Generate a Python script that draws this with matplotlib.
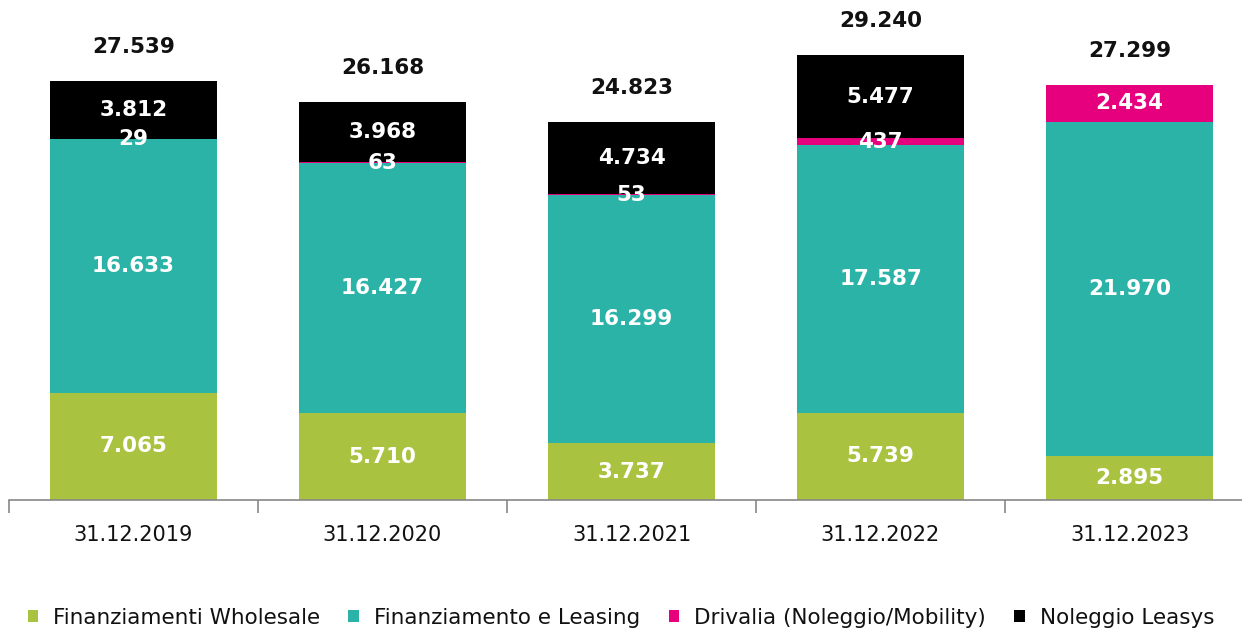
import matplotlib
matplotlib.use("Agg")
import matplotlib.pyplot as plt
import numpy as np

categories = ["31.12.2019", "31.12.2020", "31.12.2021", "31.12.2022", "31.12.2023"]
series_names = ["Finanziamenti Wholesale", "Finanziamento e Leasing",
                "Drivalia (Noleggio/Mobility)", "Noleggio Leasys"]
wholesale = [7065, 5710, 3737, 5739, 2895]
leasing = [16633, 16427, 16299, 17587, 21970]
drivalia = [29, 63, 53, 437, 2434]
leasys = [3812, 3968, 4734, 5477, 0]
totals = [27539, 26168, 24823, 29240, 27299]

colors = ["#A9C23F", "#2BB3A8", "#E6007E", "#000000"]

plt.rcParams['font.family'] = ['DejaVu Sans']

W, H = 1242, 629
fig = plt.figure(figsize=(W / 100, H / 100), dpi=100)
ax_left = 9 / W
ax_w = 1245 / W
ax_bottom = (H - 500) / H
ymax = 32000
px_per_unit = 419 / 27539
ax_h = ymax * px_per_unit / H
ax = fig.add_axes([ax_left, ax_bottom, ax_w, ax_h])

x = np.arange(len(categories))
bw = 0.667
series = [wholesale, leasing, drivalia, leasys]
bottom = np.zeros(len(categories))
for vals, c, name in zip(series, colors, series_names):
    vals = np.array(vals, dtype=float)
    ax.bar(x, vals, bw, bottom=bottom, color=c, label=name, linewidth=0)
    for xi, v, b in zip(x, vals, bottom):
        if v > 0:
            ax.text(xi, b + v / 2, f"{int(v):,}".replace(",", "."), ha="center", va="center",
                    color="white", fontsize=15.5, fontweight="bold")
    bottom += vals

for xi, t in zip(x, totals):
    ax.text(xi, t + 34 / px_per_unit, f"{t:,}".replace(",", "."), ha="center", va="center",
            color="#111111", fontsize=15.5, fontweight="semibold")

ax.set_xlim(-0.5, len(categories) - 0.5)
ax.set_ylim(0, ymax)
for s in ["top", "right", "left"]:
    ax.spines[s].set_visible(False)
ax.spines["bottom"].set_color("#888888")
ax.spines["bottom"].set_linewidth(1.2)
ax.set_yticks([])
ax.set_xticks(x)
ax.set_xticklabels(categories, fontsize=15, color="#111111")
ax.tick_params(axis="x", which="major", length=0, pad=18)
ax.set_xticks(np.arange(-0.5, len(categories), 1.0), minor=True)
ax.tick_params(axis="x", which="minor", length=9, color="#888888", width=1.2)

handles, labels = ax.get_legend_handles_labels()
fig.legend(handles, labels, loc="center", bbox_to_anchor=(0.5, (H - 618) / H), ncol=4,
           frameon=False, fontsize=15.5, handlelength=0.5, handleheight=0.5,
           handletextpad=0.7, columnspacing=1.3, labelcolor="#111111")

fig.savefig("out.png", dpi=100)
